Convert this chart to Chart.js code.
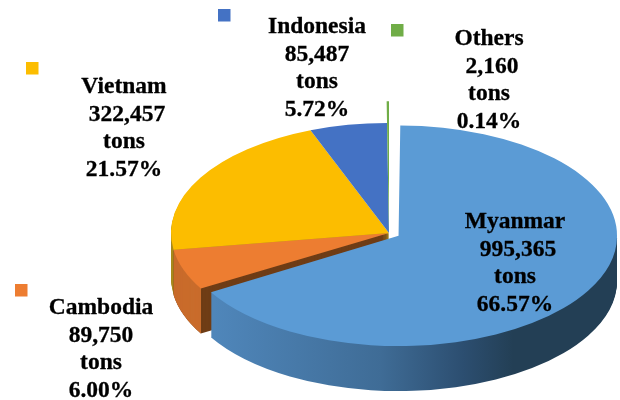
<!DOCTYPE html>
<html>
<head>
<meta charset="utf-8">
<style>
  html, body { margin: 0; padding: 0; background: #fff; }
  canvas { display: block; }
</style>
<script src="https://cdn.jsdelivr.net/npm/chart.js@4/dist/chart.umd.min.js"></script>
</head>
<body>
<canvas id="chart" width="620" height="400"></canvas>
<script>
const categories = ['Myanmar', 'Cambodia', 'Vietnam', 'Indonesia', 'Others'];
const tons = [995365, 89750, 322457, 85487, 2160];
const tonLabels = ['995,365', '89,750', '322,457', '85,487', '2,160'];
const percentLabels = ['66.57%', '6.00%', '21.57%', '5.72%', '0.14%'];
const colors = ['#5B9BD5', '#ED7D31', '#FCBD00', '#4472C4', '#70AD47'];

// ellipse of the pie on the page, the library only knows the flat circle
const pie = { cx: 389, cy: 233, radius: 218, squash: 0.505, depth: 45 };
const myanmarOffset = 44;      // arc shifts by offset / 4
const othersRadius = 261;      // the sliver sticks out above the pie

// label block centre, first baseline, key square
const labelLayout = [
  { x: 515, y: 228, keyX: null, keyY: null, pad: ' ' },
  { x: 101, y: 314, keyX: 15, keyY: 284, pad: '' },
  { x: 124, y: 93, keyX: 26, keyY: 62, pad: ' ' },
  { x: 317, y: 33, keyX: 218, keyY: 9, pad: '' },
  { x: 489, y: 45, keyX: 391, keyY: 24, pad: ' ' }
];

function pieTransform(ctx, el, dy) {
  ctx.translate(pie.cx, pie.cy + dy);
  ctx.scale(1, pie.squash);
  ctx.translate(-el.x, -el.y);
}

// draw one arc again with another fill, used for the side walls
function drawWall(ctx, el, fill, clip) {
  const saved = el.options;
  el.options = Object.create(saved, { backgroundColor: { value: fill } });
  for (let i = pie.depth; i > 0; i--) {
    ctx.save();
    if (clip) {
      ctx.beginPath();
      ctx.rect(clip.x, clip.y, clip.w, clip.h);
      ctx.clip();
    }
    pieTransform(ctx, el, i);
    el.draw(ctx);
    ctx.restore();
  }
  el.options = saved;
}

const pie3d = {
  id: 'pie3d',
  beforeDatasetsDraw(chart) {
    const ctx = chart.ctx;
    const arcs = chart.getDatasetMeta(0).data;
    arcs[0].outerRadius = pie.radius + 0.5 - myanmarOffset / 4;
    arcs[4].outerRadius = othersRadius;

    drawWall(ctx, arcs[2], '#A88A1E');
    drawWall(ctx, arcs[1], '#6F3D16');
    drawWall(ctx, arcs[1], '#C96C2C', { x: 0, y: 0, w: 201, h: 400 });

    const shift = arcs[0].x - pie.cx;
    const wall = ctx.createLinearGradient(shift + 205, 0, shift + 620, 0);
    wall.addColorStop(0, '#4F86BA');
    wall.addColorStop(0.4, '#3F6C96');
    wall.addColorStop(0.6, '#2C4E70');
    wall.addColorStop(0.72, '#233F55');
    wall.addColorStop(1, '#233F55');
    drawWall(ctx, arcs[0], wall, { x: 0, y: 238, w: 620, h: 162 });

    ctx.save();
    pieTransform(ctx, arcs[0], 0);
  },
  afterDatasetsDraw(chart) {
    const ctx = chart.ctx;
    ctx.restore();

    ctx.fillStyle = '#000';
    ctx.strokeStyle = '#000';
    ctx.lineWidth = 0.3;
    ctx.font = 'bold 23.5px "Liberation Serif"';
    ctx.textAlign = 'center';
    ctx.textBaseline = 'alphabetic';
    categories.forEach((name, i) => {
      const l = labelLayout[i];
      const lines = [name, l.pad + tonLabels[i], 'tons', percentLabels[i]];
      lines.forEach((line, n) => {
        ctx.fillText(line, l.x, l.y + n * 27.5);
        ctx.strokeText(line, l.x, l.y + n * 27.5);
      });
      if (l.keyX !== null) {
        ctx.save();
        ctx.fillStyle = colors[i];
        ctx.fillRect(l.keyX, l.keyY, 12.5, 12.5);
        ctx.restore();
      }
    });
  }
};

new Chart(document.getElementById('chart'), {
  type: 'pie',
  data: {
    labels: categories,
    datasets: [{
      data: tons,
      backgroundColor: colors,
      borderWidth: 0,
      offset: [myanmarOffset, 0, 0, 0, 0],
      radius: pie.radius,
      clip: false
    }]
  },
  options: {
    responsive: false,
    animation: false,
    plugins: { legend: { display: false }, tooltip: { enabled: false } }
  },
  plugins: [pie3d]
});
</script>
</body>
</html>
